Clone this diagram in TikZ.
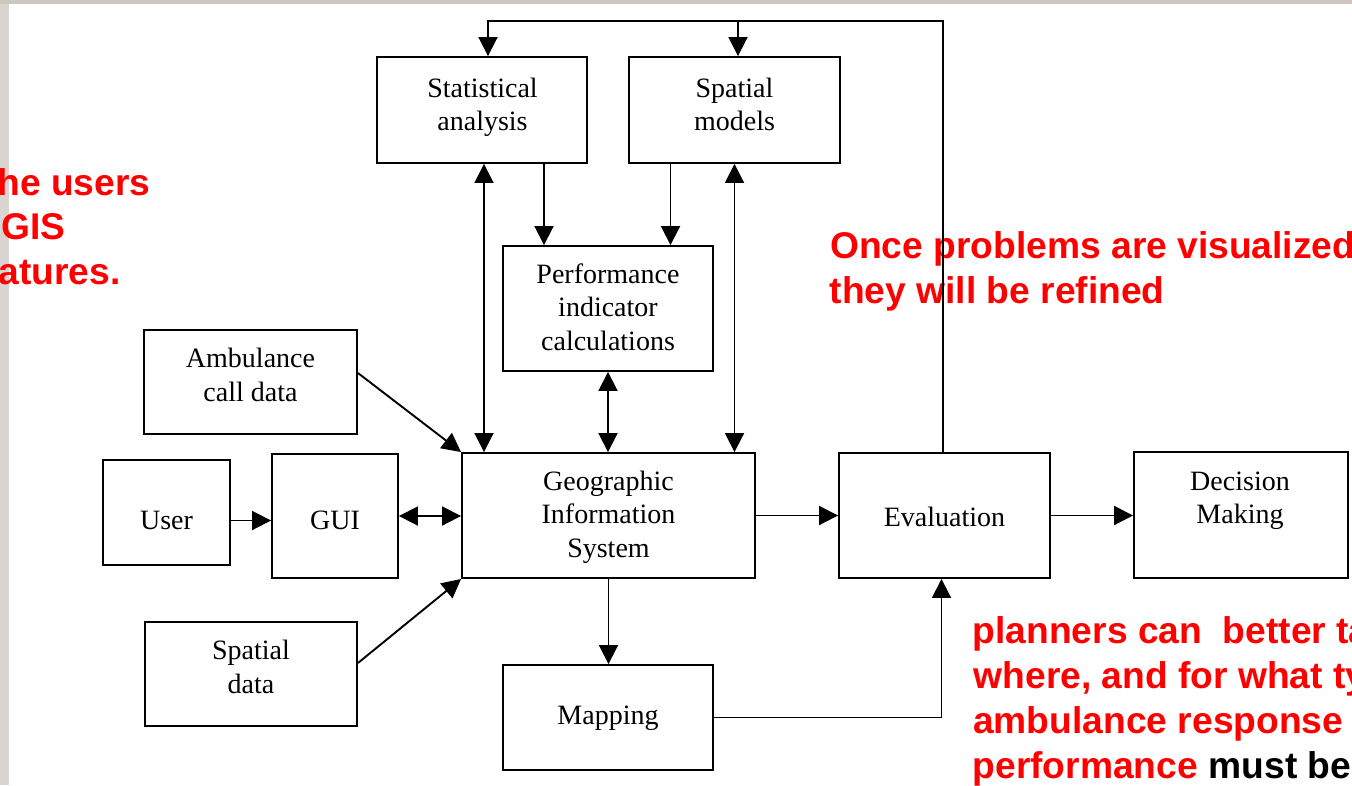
\documentclass[tikz,border=0pt]{standalone}
\usepackage{fontspec}
\setmainfont{Liberation Serif}
\newfontfamily\arialfont{Liberation Sans}
\usetikzlibrary{arrows.meta}
\definecolor{bgleft}{RGB}{218,213,208}
\definecolor{bgtop}{RGB}{206,199,192}
\definecolor{notered}{RGB}{255,0,0}
\begin{document}
\begin{tikzpicture}[x=1pt,y=-1pt,
  box/.style={draw, line width=1.9pt, inner sep=0pt},
  lbl/.style={font=\fontsize{28}{33.5}\selectfont, align=center, inner sep=0pt},
  note/.style={font=\arialfont\bfseries\fontsize{37.2}{44.5}\selectfont, text=notered, anchor=base west, inner sep=0pt},
  blacknote/.style={note, text=black},
  conn/.style={line width=1.9pt},
  arr/.style={conn, -{Triangle[length=19pt,width=19pt]}},
  darr/.style={conn, {Triangle[length=19pt,width=19pt]}-{Triangle[length=19pt,width=19pt]}}]
\useasboundingbox (0,0) rectangle (1352,785);
\clip (0,0) rectangle (1352,785);
\fill[white] (0,0) rectangle (1352,785);
\fill[bgleft] (0,0) rectangle (9,785);
\fill[bgtop] (0,0) rectangle (1352,4);

% red annotations
\node[note] (l1) at (-2.7,195) {he users};
\node[note] (l2) at (1.5,239.5) {GIS};
\node[note] (l3) at (-1.5,284.5) {atures.};
\node[note] (r1) at (830,258.5) {Once problems are visualized};
\node[note] (r2) at (829.5,303) {they will be refined};
\node[note] (b1) at (972.5,643) {planners can~ better ta};
\node[note] (b2) at (973.5,688) {where, and for what ty};
\node[note] (b3) at (973,733) {ambulance response};
\node[note] (b4) at (972.5,778) {performance};
\node[blacknote] (b5) at (b4.base east) {\ must be};

% boxes
\node[box, minimum width=210pt, minimum height=106pt] (stat) at (482,110) {};
\node[box, minimum width=211pt, minimum height=106pt] (spm) at (734.5,110) {};
\node[box, minimum width=210pt, minimum height=125pt] (perf) at (608,308.5) {};
\node[box, minimum width=293pt, minimum height=125pt] (gis) at (608.5,515.5) {};
\node[box, minimum width=213pt, minimum height=104pt] (amb) at (250.5,382) {};
\node[box, minimum width=127pt, minimum height=105pt] (user) at (166.5,512.5) {};
\node[box, minimum width=126pt, minimum height=124pt] (gui) at (335,516) {};
\node[box, minimum width=211pt, minimum height=125pt] (eval) at (944.5,515.5) {};
\node[box, minimum width=214pt, minimum height=126pt] (dec) at (1241,515) {};
\node[box, minimum width=212pt, minimum height=104pt] (sdata) at (251,674) {};
\node[box, minimum width=210pt, minimum height=105pt] (map) at (608,717.5) {};

% box texts
\node[lbl] (statT) at (482.5,107.5) {Statistical\\analysis};
\node[lbl] (spmT) at (734.5,104.5) {Spatial\\models};
\node[lbl] (perfT) at (608,307) {Performance\\indicator\\calculations};
\node[lbl] (gisT) at (608.5,517) {Geographic\\Information\\System};
\node[lbl] (ambT) at (250.5,375) {Ambulance\\call data};
\node[lbl] (userT) at (166.5,520) {User};
\node[lbl] (guiT) at (335,520) {GUI};
\node[lbl] (evalT) at (944.5,516.5) {Evaluation};
\node[lbl] (decT) at (1240,500.5) {Decision\\Making};
\node[lbl] (sdataT) at (251,667) {Spatial\\data};
\node[lbl] (mapT) at (608,718.5) {Mapping};

% connectors
\coordinate (fbL) at (488,21);
\coordinate (fbM) at (738,21);
\draw[arr] ([xshift=-1.5pt]eval.north) |- (fbL) -- (fbL |- stat.north);
\draw[arr] (fbM) -- (fbM |- spm.north);
\draw[darr] ([xshift=2pt]stat.south) -- ([xshift=2pt]stat.south |- gis.north);
\draw[arr] ([xshift=62pt]stat.south) -- ([xshift=62pt]stat.south |- perf.north);
\draw[arr] ([xshift=-64pt]spm.south) -- ([xshift=-64pt]spm.south |- perf.north);
\draw[darr] (spm.south) -- (spm.south |- gis.north);
\draw[darr] (perf.south) -- (perf.south |- gis.north);
\draw[arr] ([yshift=9pt]amb.east) -- (gis.north west);
\draw[arr] ([yshift=11pt]sdata.east) -- (gis.south west);
\draw[arr] ([yshift=-8pt]user.east) -- ([yshift=-8pt]user.east -| gui.west);
\draw[darr] (gui.east) -- (gui.east -| gis.west);
\draw[arr] (gis.south) -- (gis.south |- map.north);
\draw[arr] (gis.east) -- (gis.east -| eval.west);
\draw[arr] (eval.east) -- (eval.east -| dec.west);
\draw[arr] (map.east) -| ([xshift=-3pt]eval.south);
\end{tikzpicture}
\end{document}
